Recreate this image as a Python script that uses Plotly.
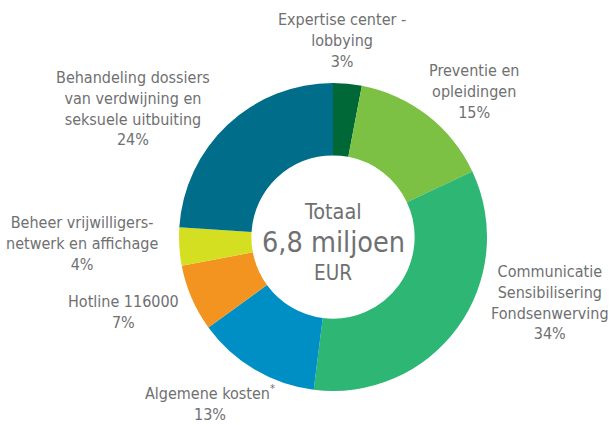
import plotly.graph_objects as go

categories = [
    "Expertise center -<br>lobbying",
    "Preventie en<br>opleidingen",
    "Communicatie<br>Sensibilisering<br>Fondsenwerving",
    "Algemene kosten<sup>*</sup>",
    "Hotline 116000",
    "Beheer vrijwilligers-<br>netwerk en affichage",
    "Behandeling dossiers<br>van verdwijning en<br>seksuele uitbuiting",
]
values = [3, 15, 34, 13, 7, 4, 24]
colors = ["#006837", "#7cc143", "#2db674", "#008fc5", "#f39320", "#d5df22", "#006e8a"]
center_lines = ["Totaal", "6,8 miljoen", "EUR"]

W, H = 610, 425
FONT = "DejaVu Sans Condensed, Liberation Sans Narrow, sans-serif"
GRAY = "#6f7072"

cx, cy, r = 333, 237, 154

fig = go.Figure(go.Pie(
    labels=[c.replace("<br>", " ") for c in categories],
    values=values,
    marker=dict(colors=colors, line=dict(width=0)),
    hole=0.53,
    sort=False,
    direction="clockwise",
    rotation=0,
    textinfo="none",
    domain=dict(x=[(cx - r) / W, (cx + r) / W], y=[1 - (cy + r) / H, 1 - (cy - r) / H]),
    showlegend=False,
))

# label block centres (pixels)
label_pos = [(342, 40), (474, 92), (550, 302), (210, 403), (123, 312), (82, 243), (133, 108)]

anns = []
for cat, v, (px, py) in zip(categories, values, label_pos):
    anns.append(dict(
        text=f"{cat}<br>{v}%", x=px / W, y=1 - py / H, xref="paper", yref="paper",
        xanchor="center", yanchor="middle", showarrow=False, align="center",
        font=dict(family=FONT, size=16, color=GRAY),
    ))

center_specs = [(211, 21.5), (242, 28.5), (273, 20.5)]
for txt, (py, sz) in zip(center_lines, center_specs):
    anns.append(dict(
        text=txt, x=cx / W, y=1 - py / H, xref="paper", yref="paper",
        xanchor="center", yanchor="middle", showarrow=False,
        font=dict(family=FONT, size=sz, color=GRAY),
    ))

fig.update_layout(
    width=W, height=H, margin=dict(l=0, r=0, t=0, b=0),
    paper_bgcolor="white", plot_bgcolor="white",
    annotations=anns,
)

fig.write_html("out.html")
